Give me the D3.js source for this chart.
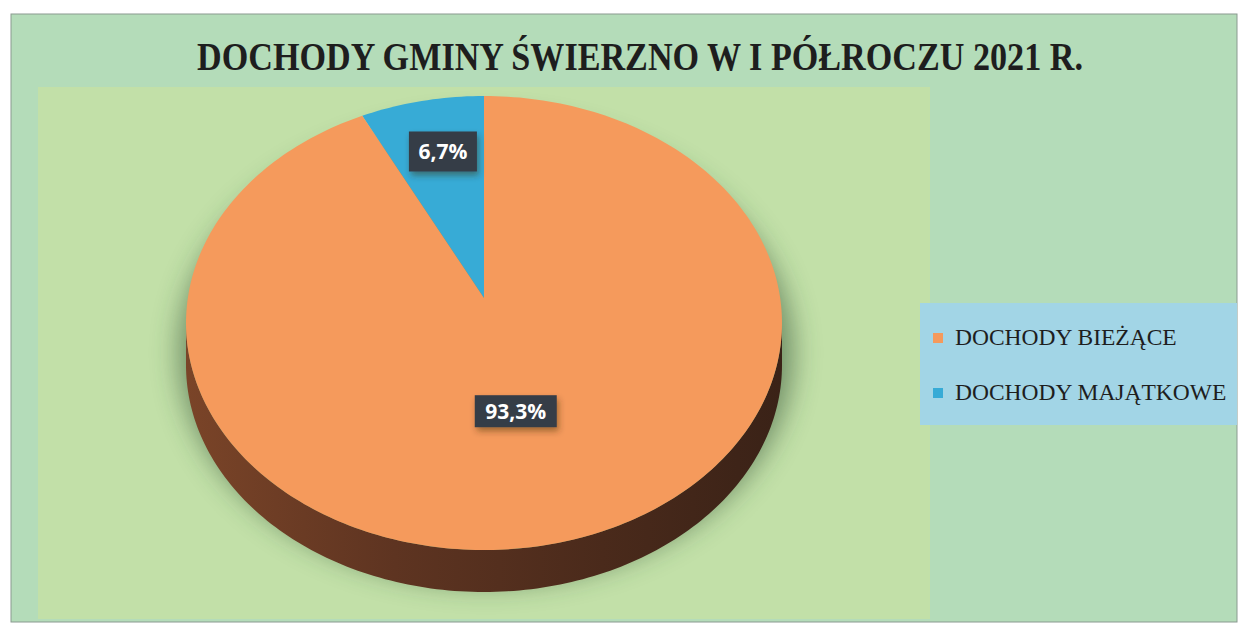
<!DOCTYPE html>
<html>
<head>
<meta charset="utf-8">
<script src="https://cdn.jsdelivr.net/npm/d3@7"></script>
<style>
  body { margin: 0; background: #ffffff; }
</style>
</head>
<body>
<div id="chart"></div>
<script>
// data
var categories = ["DOCHODY BIEŻĄCE", "DOCHODY MAJĄTKOWE"];
var shares = [93.3, 6.7];
var shareLabels = ["93,3%", "6,7%"];
var title = "DOCHODY GMINY ŚWIERZNO W I PÓŁROCZU 2021 R.";

var svgWidth = 1240;
var svgHeight = 628;

var colors = ["#f59a5c", "#37abd6"];

var svg = d3.select("#chart")
  .append("svg")
  .attr("width", svgWidth)
  .attr("height", svgHeight);

var defs = svg.append("defs");

var blur = defs.append("filter")
  .attr("id", "pieShadow")
  .attr("x", "-20%").attr("y", "-20%")
  .attr("width", "140%").attr("height", "140%");
blur.append("feGaussianBlur").attr("stdDeviation", 14);

var lblShadow = defs.append("filter")
  .attr("id", "lblShadow")
  .attr("x", "-30%").attr("y", "-30%")
  .attr("width", "160%").attr("height", "180%");
lblShadow.append("feDropShadow")
  .attr("dx", 2).attr("dy", 4)
  .attr("stdDeviation", 3)
  .attr("flood-color", "#3a2a10")
  .attr("flood-opacity", 0.45);

var sideGrad = defs.append("linearGradient")
  .attr("id", "sideGrad")
  .attr("x1", "0%").attr("x2", "100%")
  .attr("y1", "0%").attr("y2", "0%");
sideGrad.append("stop").attr("offset", "0%").attr("stop-color", "#7a4428");
sideGrad.append("stop").attr("offset", "35%").attr("stop-color", "#5e3421");
sideGrad.append("stop").attr("offset", "70%").attr("stop-color", "#4a2a1b");
sideGrad.append("stop").attr("offset", "100%").attr("stop-color", "#3a2217");

// chart background + plot area
svg.append("rect")
  .attr("x", 11).attr("y", 14)
  .attr("width", 1226).attr("height", 608)
  .attr("fill", "#b4dcb9")
  .attr("stroke", "#8a9a90")
  .attr("stroke-width", 1);

svg.append("rect")
  .attr("x", 38).attr("y", 87)
  .attr("width", 892).attr("height", 532)
  .attr("fill", "#c2e0a8");

// title
svg.append("text")
  .attr("x", 640)
  .attr("y", 70)
  .attr("text-anchor", "middle")
  .attr("font-family", "Liberation Serif, serif")
  .attr("font-weight", "bold")
  .attr("font-size", 40)
  .attr("textLength", 886)
  .attr("lengthAdjust", "spacingAndGlyphs")
  .attr("fill", "#1e1e1e")
  .text(title);

// pie geometry (tilted ellipse, apex slightly above ellipse centre)
var cx = 484, cy = 323, rx = 298, ry = 227;
var apexY = 298;
var depth = 42;

function rim(a, dy) {
  return [cx + rx * Math.sin(a), cy - ry * Math.cos(a) + (dy || 0)];
}

function arcPts(a0, a1, dy) {
  var n = Math.max(4, Math.ceil(Math.abs(a1 - a0) / 0.02));
  var pts = [];
  for (var i = 0; i <= n; i++) {
    pts.push(rim(a0 + (a1 - a0) * i / n, dy));
  }
  return pts;
}

var line = d3.line();

var pie = d3.pie()
  .sort(null)
  .startAngle(-2 * Math.PI * shares[1] / 100)
  .endAngle(2 * Math.PI - 2 * Math.PI * shares[1] / 100)
  .value(d => d);

// order so slices run clockwise: majątkowe first (left of 12 o'clock), then bieżące
var arcs = pie([shares[1], shares[0]]);
var sliceIdx = [1, 0];

// soft shadow
var g = svg.append("g");
var shadowPts = arcPts(0, 2 * Math.PI, 0).map(p => [
  cx + (p[0] - cx) * 1.03 + 2,
  cy + (p[1] - cy) * 1.02 + depth * 0.7
]);
g.append("path")
  .attr("d", line(shadowPts) + "Z")
  .attr("fill", "#2a4a2e")
  .attr("opacity", 0.55)
  .attr("filter", "url(#pieShadow)");

// side wall (front half, from 3 o'clock to 9 o'clock)
var front = arcPts(Math.PI / 2, 3 * Math.PI / 2, 0);
var back = arcPts(3 * Math.PI / 2, Math.PI / 2, depth);
g.append("path")
  .attr("d", line(front.concat(back)) + "Z")
  .attr("fill", "url(#sideGrad)");

// top faces
g.selectAll(".slice")
  .data(arcs)
  .enter()
  .append("path")
  .attr("class", "slice")
  .attr("d", function(d) {
    var pts = [[cx, apexY]].concat(arcPts(d.startAngle, d.endAngle, 0));
    return line(pts) + "Z";
  })
  .attr("fill", (d, i) => colors[sliceIdx[i]]);

// data labels
var labelFrac = [0.66, 0.51];
var boxW = [68, 82];
var boxH = [40, 32];

var labels = g.selectAll(".lbl")
  .data(arcs)
  .enter()
  .append("g")
  .attr("class", "lbl")
  .attr("transform", function(d, i) {
    var a = (d.startAngle + d.endAngle) / 2;
    var x = cx + rx * Math.sin(a) * labelFrac[i];
    var y = apexY - ry * Math.cos(a) * labelFrac[i];
    return `translate(${x}, ${y})`;
  });

labels.append("rect")
  .attr("x", (d, i) => -boxW[i] / 2)
  .attr("y", (d, i) => -boxH[i] / 2)
  .attr("width", (d, i) => boxW[i])
  .attr("height", (d, i) => boxH[i])
  .attr("fill", "#353c47")
  .attr("filter", "url(#lblShadow)");

labels.append("text")
  .attr("text-anchor", "middle")
  .attr("dy", "0.36em")
  .attr("font-family", "Open Sans, sans-serif")
  .attr("font-weight", "bold")
  .attr("font-size", 21)
  .attr("fill", "#ffffff")
  .text((d, i) => shareLabels[sliceIdx[i]]);

// legend
var legend = svg.append("g");
legend.append("rect")
  .attr("x", 920).attr("y", 303)
  .attr("width", 317).attr("height", 122)
  .attr("fill", "#a2d5e6");

var items = legend.selectAll(".item")
  .data(categories)
  .enter()
  .append("g")
  .attr("class", "item")
  .attr("transform", (d, i) => `translate(933, ${345 + i * 55})`);

items.append("rect")
  .attr("x", 0).attr("y", -12)
  .attr("width", 10).attr("height", 10)
  .attr("fill", (d, i) => colors[i]);

items.append("text")
  .attr("x", 22)
  .attr("y", 0)
  .attr("font-family", "Liberation Serif, serif")
  .attr("font-size", 23.5)
  .attr("fill", "#1e1e1e")
  .text(d => d);
</script>
</body>
</html>
